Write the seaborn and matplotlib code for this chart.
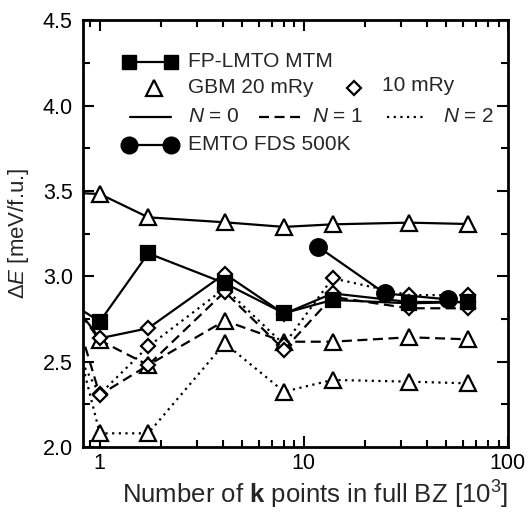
import matplotlib
matplotlib.use('Agg')
import matplotlib.pyplot as plt
from matplotlib.ticker import LogLocator, MultipleLocator, FixedLocator, FixedFormatter, NullFormatter
import seaborn as sns

# ── Data (k points in 10^3, energies in meV/f.u.) ────────────────────────────
K_POINTS = [0.729, 1.0, 1.728, 4.096, 8.0, 13.824, 32.768, 64.0]

GBM20_N0 = [3.49, 3.483, 3.346, 3.317, 3.29, 3.305, 3.315, 3.307]
GBM20_N1 = [2.85, 2.625, 2.48, 2.74, 2.617, 2.617, 2.643, 2.631]
GBM20_N2 = [2.73, 2.08, 2.08, 2.608, 2.324, 2.393, 2.383, 2.373]

GBM10_N0 = [2.85, 2.637, 2.696, 3.015, 2.78, 2.90, 2.85, 2.85]
GBM10_N1 = [2.85, 2.305, 2.48, 2.91, 2.57, 2.88, 2.813, 2.813]
GBM10_N2 = [2.60, 2.31, 2.589, 2.93, 2.60, 2.989, 2.89, 2.89]

FP_LMTO = [2.84, 2.735, 3.135, 2.96, 2.784, 2.862, 2.842, 2.85]

EMTO_K = [11.7, 25.0, 51.0]
EMTO_FDS = [3.175, 2.90, 2.865]

DASHED = (0, (4.5, 2.5))
DOTTED = (0, (1.0, 2.0))

sns.set_style('ticks')
plt.rcParams['font.family'] = ['Liberation Sans', 'DejaVu Sans']
plt.rcParams['mathtext.fontset'] = 'custom'
plt.rcParams['mathtext.rm'] = 'Liberation Sans'
plt.rcParams['mathtext.it'] = 'Liberation Sans:italic'
plt.rcParams['mathtext.bf'] = 'Liberation Sans:bold'

FS = 15


def draw(ax, x, y, marker, ls, ms, filled=False, z=2):
    sns.lineplot(x=x, y=y, ax=ax, color='black', linestyle=ls, linewidth=1.6,
                 marker=marker, markersize=ms,
                 markerfacecolor='black' if filled else 'white',
                 markeredgecolor='black', markeredgewidth=1.6,
                 errorbar=None, zorder=z)


fig = plt.figure(figsize=(5.29, 5.12), dpi=100)
ax = fig.add_axes([0.156, 0.127, 0.804, 0.833])

# triangles: GBM 20 mRy
draw(ax, K_POINTS, GBM20_N0, '^', '-', 11, z=2)
draw(ax, K_POINTS, GBM20_N1, '^', DASHED, 11, z=2)
draw(ax, K_POINTS, GBM20_N2, '^', DOTTED, 11, z=2)
# diamonds: GBM 10 mRy
draw(ax, K_POINTS, GBM10_N2, 'D', DOTTED, 7.5, z=3)
draw(ax, K_POINTS, GBM10_N1, 'D', DASHED, 7.5, z=3)
draw(ax, K_POINTS, GBM10_N0, 'D', '-', 7.5, z=3)
# FP-LMTO and EMTO
draw(ax, K_POINTS, FP_LMTO, 's', '-', 10, filled=True, z=4)
draw(ax, EMTO_K, EMTO_FDS, 'o', '-', 12, filled=True, z=5)

ax.set_xscale('log')
ax.set_xlim(0.823, 100)
ax.set_ylim(2.0, 4.5)

ax.xaxis.set_major_locator(FixedLocator([1, 10, 100]))
ax.xaxis.set_major_formatter(FixedFormatter(['1', '10', '100']))
ax.xaxis.set_minor_locator(LogLocator(base=10, subs=range(2, 10)))
ax.xaxis.set_minor_formatter(NullFormatter())
ax.yaxis.set_major_locator(MultipleLocator(0.5))
ax.yaxis.set_minor_locator(MultipleLocator(0.25))
ax.yaxis.set_major_formatter(plt.FormatStrFormatter('%.1f'))

ax.tick_params(which='both', direction='in', top=True, right=True, width=1.5, colors='black')
ax.tick_params(which='major', length=8)
ax.tick_params(which='minor', length=5)
ax.tick_params(axis='x', labelsize=15.5, pad=4)
ax.tick_params(axis='y', labelsize=15.5, pad=7)
for sp in ax.spines.values():
    sp.set_linewidth(2)
    sp.set_color('black')

ax.set_xlabel(r'Number of $\mathbf{k}$ points in full BZ [10$^3$]', fontsize=18.5)
ax.xaxis.set_label_coords(0.546, -0.075)
ax.set_ylabel(r'Δ$\it{E}$ [meV/f.u.]', fontsize=16)
ax.yaxis.set_label_coords(-0.12, 0.5)

# ── Legend drawn by hand (irregular layout) ──────────────────────────────────
def ax_x(px):
    return (px - 82.7) / 425.3


def ax_y(py):
    return (447 - py) / 426.5


tr = ax.transAxes
lkw = dict(color='black', transform=tr, clip_on=False, linewidth=1.6)
# row 1: FP-LMTO
ax.plot([ax_x(129), ax_x(171)], [ax_y(62)] * 2, marker='s', markersize=10,
        markerfacecolor='black', markeredgecolor='black', **lkw)
ax.text(ax_x(188), ax_y(62), 'FP-LMTO MTM', transform=tr, fontsize=FS, va='center')
# row 2: GBM
ax.plot([ax_x(154)], [ax_y(88)], marker='^', markersize=11, markerfacecolor='white',
        markeredgecolor='black', markeredgewidth=1.6, linestyle='none',
        transform=tr, clip_on=False)
ax.text(ax_x(188), ax_y(88), 'GBM 20 mRy', transform=tr, fontsize=FS, va='center')
ax.plot([ax_x(354)], [ax_y(88)], marker='D', markersize=7.5, markerfacecolor='white',
        markeredgecolor='black', markeredgewidth=1.6, linestyle='none',
        transform=tr, clip_on=False)
ax.text(ax_x(382), ax_y(86), '10 mRy', transform=tr, fontsize=FS, va='center')
# row 3: line styles
ax.plot([ax_x(130), ax_x(171)], [ax_y(117)] * 2, linestyle='-', **lkw)
ax.text(ax_x(188), ax_y(117), r'$\it{N}$ = 0', transform=tr, fontsize=FS, va='center')
ax.plot([ax_x(259), ax_x(300)], [ax_y(117)] * 2, linestyle=DASHED, **lkw)
ax.text(ax_x(312), ax_y(117), r'$\it{N}$ = 1', transform=tr, fontsize=FS, va='center')
ax.plot([ax_x(387), ax_x(427)], [ax_y(117)] * 2, linestyle=DOTTED, **lkw)
ax.text(ax_x(443), ax_y(117), r'$\it{N}$ = 2', transform=tr, fontsize=FS, va='center')
# row 4: EMTO
ax.plot([ax_x(129), ax_x(171)], [ax_y(145)] * 2, marker='o', markersize=12,
        markerfacecolor='black', markeredgecolor='black', **lkw)
ax.text(ax_x(188), ax_y(145), 'EMTO FDS 500K', transform=tr, fontsize=FS, va='center')

fig.savefig('out.png', dpi=100)
